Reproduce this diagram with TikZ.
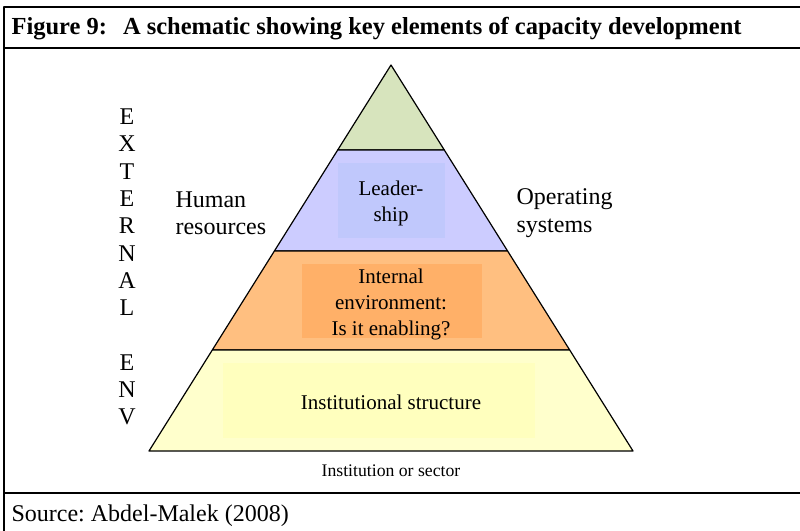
\documentclass[tikz,border=0pt]{standalone}
\usepackage{fontspec}
\setmainfont{Liberation Serif}
\definecolor{apexgreen}{RGB}{215,228,189}
\definecolor{leadblue}{RGB}{204,204,255}
\definecolor{leadbox}{RGB}{192,200,252}
\definecolor{envorange}{RGB}{255,191,128}
\definecolor{envbox}{RGB}{255,176,104}
\definecolor{instyellow}{RGB}{255,255,204}
\definecolor{instbox}{RGB}{255,255,190}
\def\pyrfont{\fontsize{21}{26}\selectfont}
\def\sidefont{\fontsize{24}{27.3}\selectfont}

\begin{document}
\begin{tikzpicture}[x=1pt,y=-1pt,line join=round,
    frame/.style={line width=2pt},
    tier/.style={draw,line width=1.2pt},
    inbox/.style={draw=none}]
          \useasboundingbox (0,0) rectangle (800,530);
          % outer box
          \draw [frame] (806,7) -- (4,7) -- (4,536);
          \draw [frame] (4,48) -- (806,48);
          \draw [frame] (4,493) -- (806,493);
          \node (title) [anchor=west,font=\bfseries\fontsize{24.5}{28}\selectfont] at (8,29)
               {Figure 9:\hspace{16pt}A schematic showing key elements of capacity development};

          % pyramid
          \draw [tier,fill=apexgreen] (391,65) -- (337.7,150) -- (444.3,150) -- cycle;
          \draw [tier,fill=leadblue] (337.7,150) -- (274.4,251) -- (507.6,251) -- (444.3,150) -- cycle;
          \draw [tier,fill=envorange] (274.4,251) -- (212.3,350) -- (569.7,350) -- (507.6,251) -- cycle;
          \draw [tier,fill=instyellow] (212.3,350) -- (149,451) -- (633,451) -- (569.7,350) -- cycle;
          \fill [leadbox] (338,163) rectangle (445,238);
          \fill [envbox] (302,264) rectangle (482,338);
          \fill [instbox] (223,363) rectangle (535,438);

          \node (lead) [align=center,font=\pyrfont] at (391,203) {Leader-\\ship};
          \node (env) [align=center,font=\pyrfont] at (391,304) {Internal\\environment:\\Is it enabling?};
          \node (inst) [font=\pyrfont] at (391,402) {Institutional structure};

          \node (human) [anchor=west,align=left,font=\sidefont] at (172,213) {Human\\resources};
          \node (oper) [anchor=west,align=left,font=\sidefont] at (513,213) {Operating\\systems};
          \node (ext) [align=center,font=\sidefont] at (127,267)
               {E\\X\\T\\E\\R\\N\\A\\L\\[27.3pt]E\\N\\V};

          \node (sector) [font=\fontsize{17.7}{20}\selectfont] at (391,471) {Institution or sector};
          \node (source) [anchor=base west,font=\sidefont] at (8,521) {Source:\hspace{6pt}Abdel-Malek (2008)};
\end{tikzpicture}
\end{document}
